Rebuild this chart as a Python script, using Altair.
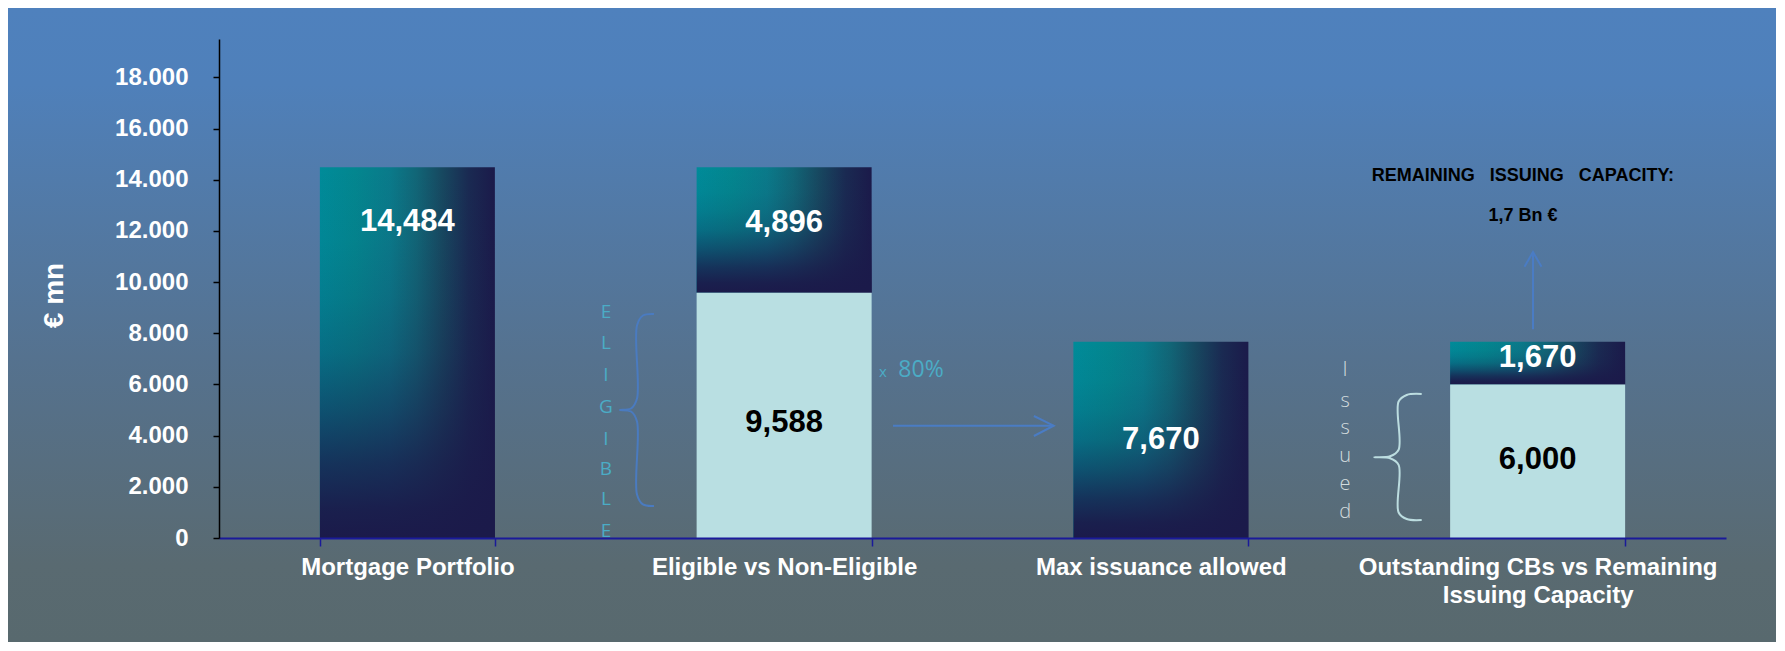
import altair as alt
import pandas as pd

# ---------------- data ----------------
categories = ["Mortgage Portfolio", "Eligible vs Non-Eligible", "Max issuance allowed",
              "Outstanding CBs vs Remaining Issuing Capacity"]
light_values = [0, 9588, 0, 6000]          # eligible / issued part (light)
dark_values = [14484, 4896, 7670, 1670]    # gradient part
dark_label_at = [12350, 12310, 3830, 7015]  # where the value label sits (€ mn)
light_label_at = [0, 4480, 0, 3050]

y_tick_values = [0, 2000, 4000, 6000, 8000, 10000, 12000, 14000, 16000, 18000]
y_domain = [0, 19500]

# annotations: x in category units (0..4), y in € mn
eligible_letters = list("ELIGIBLE")
eligible_letter_y = [8844, 7632, 6370, 5108, 3869, 2685, 1512, 285]
eligible_letter_x = 1.027
issued_letters = list("Issued")
issued_letter_y = [6565, 5354, 4287, 3205, 2110, 1028]
issued_letter_x = 2.989

eligible_brace = [1.1546, 1.1095, 1.0644, 8754, 5002, 1251]   # x_end, x_spine, x_tip, y_top, y_tip, y_bot
issued_brace = [3.1923, 3.1310, 3.0665, 5628, 3154, 703]

arrow_seg = ["h_shaft", "h_shaft", "h_head", "h_head", "h_head",
             "u_shaft", "u_shaft", "u_head", "u_head", "u_head"]
arrow_x = [1.789, 2.2155, 2.163, 2.2155, 2.163, 3.4877, 3.4877, 3.4652, 3.4877, 3.5103]
arrow_y = [4389, 4389, 4768, 4389, 3986, 8156, 11177, 10602, 11177, 10602]

note_text = ["x", "80%", "REMAINING\u00a0\u00a0 ISSUING\u00a0\u00a0 CAPACITY:", "1,7 Bn \u20ac"]
note_x = [1.7624, 1.8633, 3.461, 3.461]
note_y = [6487, 6565, 14147, 12584]

# ---------------- styling ----------------
W, H = 1507, 499
PAD = {"left": 211, "top": 31, "right": 50, "bottom": 104}
FONT = "Liberation Sans"
TEAL_TXT = "#4BACC6"
ARROW_BLUE = "#4A7CC4"

bg_grad = alt.LinearGradient(gradient="linear", x1=0, y1=0, x2=0, y2=1, stops=[
    alt.GradientStop(offset=0, color="#4F81BD"),
    alt.GradientStop(offset=0.12, color="#4F80BA"),
    alt.GradientStop(offset=0.55, color="#55728F"),
    alt.GradientStop(offset=0.88, color="#596A71"),
    alt.GradientStop(offset=1, color="#58696E"),
])
bar_h_grad = alt.LinearGradient(gradient="linear", x1=0, y1=0, x2=1, y2=0, stops=[
    alt.GradientStop(offset=0, color="#008B99"),
    alt.GradientStop(offset=0.2, color="#03868F"),
    alt.GradientStop(offset=0.4, color="#0A7A8A"),
    alt.GradientStop(offset=0.55, color="#116677"),
    alt.GradientStop(offset=0.7, color="#174860"),
    alt.GradientStop(offset=0.85, color="#1A2A52"),
    alt.GradientStop(offset=1, color="#1B1A4A"),
])
bar_v_grad = alt.LinearGradient(gradient="linear", x1=0, y1=0, x2=0, y2=1, stops=[
    alt.GradientStop(offset=0, color="rgba(27,26,74,0)"),
    alt.GradientStop(offset=0.2, color="rgba(27,26,74,0.04)"),
    alt.GradientStop(offset=0.35, color="rgba(27,26,74,0.12)"),
    alt.GradientStop(offset=0.5, color="rgba(27,26,74,0.26)"),
    alt.GradientStop(offset=0.65, color="rgba(27,26,74,0.5)"),
    alt.GradientStop(offset=0.8, color="rgba(27,26,74,0.78)"),
    alt.GradientStop(offset=0.92, color="rgba(27,26,74,0.95)"),
    alt.GradientStop(offset=1, color="rgba(27,26,74,1)"),
])

# ---------------- tables ----------------
rows = []
for i, c in enumerate(categories):
    lv, dv = light_values[i], dark_values[i]
    if lv > 0:
        rows.append({"cat": c, "part": "light", "y0": 0, "y1": lv, "value": lv,
                     "label_at": light_label_at[i], "tcolor": "#000000"})
    rows.append({"cat": c, "part": "dark", "y0": lv, "y1": lv + dv, "value": dv,
                 "label_at": dark_label_at[i], "tcolor": "#FFFFFF"})
bars_df = pd.DataFrame(rows)


def brace(name, color, b):
    xe, xs, xt, yt, yti, yb = b
    h = yt - yb
    c = 0.06 * h
    d = xe - xs
    t = xs - xt
    pts = [(xe, yt), (xs + 0.35 * d, yt - 0.008 * h), (xs, yt - c),
           (xs, yti + c), (xs - 0.35 * t, yti + 0.008 * h), (xt, yti),
           (xs - 0.35 * t, yti - 0.008 * h), (xs, yti - c),
           (xs, yb + c), (xs + 0.35 * d, yb + 0.008 * h), (xe, yb)]
    return [{"brace": name, "i": k, "x": p[0], "y": p[1], "stroke": color} for k, p in enumerate(pts)]


brace_df = pd.DataFrame(brace("eligible", "#4A7BC0", eligible_brace) +
                        brace("issued", "#BCDDE0", issued_brace))
arrow_df = pd.DataFrame({"seg": arrow_seg, "x": arrow_x, "y": arrow_y,
                         "i": list(range(len(arrow_x)))})
elig_df = pd.DataFrame({"t": eligible_letters, "y": eligible_letter_y,
                        "x": [eligible_letter_x] * len(eligible_letters)})
iss_df = pd.DataFrame({"t": issued_letters, "y": issued_letter_y,
                       "x": [issued_letter_x] * len(issued_letters)})
notes_df = pd.DataFrame({"t": note_text, "x": note_x, "y": note_y})

# ---------------- scales & axes ----------------
last = categories[3]
x_axis = alt.Axis(
    title=None, labelAngle=0, labelColor="white", labelFontSize=24, labelFontWeight="bold",
    labelFont=FONT, labelPadding=9, labelLimit=600, labelOverlap=False, labelLineHeight=28,
    labelBaseline="top",
    labelExpr=f"datum.label == '{last}' ? ['Outstanding CBs vs Remaining', 'Issuing Capacity'] : datum.label",
    tickBand="extent", tickSize=8, tickWidth=1.5, tickColor="#1A1A9A",
    domainColor="#1A1A9A", domainWidth=2, grid=False, zindex=2,
)
y_axis = alt.Axis(
    title="\u20ac mn", titleAngle=270, titleX=-165, titleY=256, titleAlign="center",
    titleBaseline="middle", titleFontSize=28, titleColor="white", titleFontWeight="bold",
    titleFont=FONT,
    values=y_tick_values, labelExpr="replace(format(datum.value, ','), ',', '.')",
    labelColor="white", labelFontSize=24, labelFontWeight="bold", labelFont=FONT,
    labelPadding=25, tickSize=6, tickColor="black", tickWidth=1.5,
    domainColor="black", domainWidth=1.5, grid=False, zindex=2,
)
x_scale = alt.Scale(domain=categories, paddingInner=0.5355, paddingOuter=0.26775)
y_scale = alt.Scale(domain=y_domain, nice=False, zero=True)
xq_scale = alt.Scale(domain=[0, 4], nice=False, zero=False)

x_enc = alt.X("cat:N", sort=categories, scale=x_scale, axis=x_axis)

# ---------------- layers ----------------
bg = alt.Chart(alt.Data(values=[{"a": 1}])).mark_rect(fill=bg_grad, strokeWidth=0).encode(
    x=alt.value(-PAD["left"]), x2=alt.value(W + PAD["right"]),
    y=alt.value(-PAD["top"]), y2=alt.value(H + PAD["bottom"]),
)

dark_base = alt.Chart(bars_df).transform_filter(alt.datum.part == "dark")
dark_h = dark_base.mark_bar(fill=bar_h_grad).encode(
    x=x_enc, y=alt.Y("y0:Q", scale=y_scale, axis=y_axis), y2="y1:Q")
dark_v = dark_base.mark_bar(fill=bar_v_grad).encode(
    x=x_enc, y=alt.Y("y0:Q", scale=y_scale, axis=y_axis), y2="y1:Q")
light = alt.Chart(bars_df).transform_filter(alt.datum.part == "light").mark_bar(
    fill="#B9DFE2").encode(
    x=x_enc, y=alt.Y("y0:Q", scale=y_scale, axis=y_axis), y2="y1:Q")
labels = alt.Chart(bars_df).mark_text(
    fontSize=31, fontWeight="bold", font=FONT, baseline="middle").encode(
    x=x_enc, y=alt.Y("label_at:Q", scale=y_scale, axis=y_axis),
    text=alt.Text("value:Q", format=","),
    color=alt.Color("tcolor:N", scale=None))

bar_group = alt.layer(bg, dark_h, dark_v, light, labels)

xq = alt.X("x:Q", scale=xq_scale, axis=None)
yq = alt.Y("y:Q", scale=y_scale, axis=y_axis)

braces = alt.Chart(brace_df).mark_line(interpolate="catmull-rom", strokeWidth=2).encode(
    x=xq, y=yq, order="i:Q", detail="brace:N", color=alt.Color("stroke:N", scale=None))
arrows = alt.Chart(arrow_df).mark_line(strokeWidth=2, color=ARROW_BLUE).encode(
    x=xq, y=yq, order="i:Q", detail="seg:N")
elig_txt = alt.Chart(elig_df).mark_text(
    fontSize=19, font="Open Sans", color=TEAL_TXT, baseline="middle").encode(
    x=xq, y=yq, text="t:N")
iss_txt = alt.Chart(iss_df).mark_text(
    fontSize=20, font="Open Sans", fontWeight=300, color="#D3DCDE", baseline="middle").encode(
    x=xq, y=yq, text="t:N")
notes_small = alt.Chart(notes_df).transform_filter(alt.datum.t == "x").mark_text(
    fontSize=15, font="Open Sans", color=TEAL_TXT, baseline="middle").encode(
    x=xq, y=yq, text="t:N")
notes_pct = alt.Chart(notes_df).transform_filter(alt.datum.t == "80%").mark_text(
    fontSize=23, font="Open Sans", color=TEAL_TXT, baseline="middle").encode(
    x=xq, y=yq, text="t:N")
notes_bold = alt.Chart(notes_df).transform_filter(
    (alt.datum.t != "x") & (alt.datum.t != "80%")).mark_text(
    fontSize=18, font=FONT, fontWeight="bold", color="black", baseline="middle").encode(
    x=xq, y=yq, text="t:N")

annot_group = alt.layer(braces, arrows, elig_txt, iss_txt, notes_small, notes_pct, notes_bold)

chart = alt.layer(bar_group, annot_group).resolve_scale(x="independent").properties(
    width=W, height=H,
    autosize=alt.AutoSizeParams(type="none"),
    padding=PAD,
).configure_view(stroke=None).configure(font=FONT)

chart.save("out.html", embed_options={"renderer": "svg", "actions": False})
